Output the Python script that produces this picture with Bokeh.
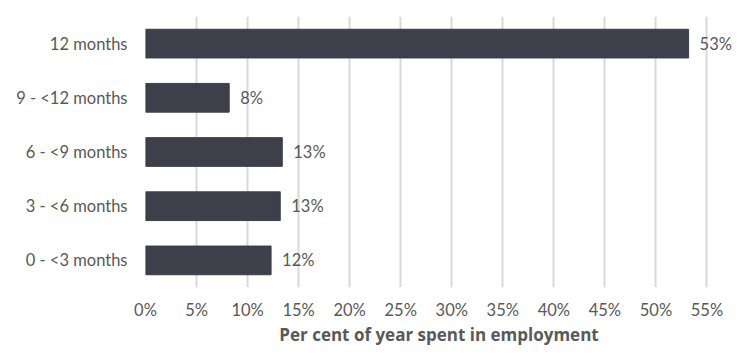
from bokeh.plotting import figure
from bokeh.models import ColumnDataSource, FactorRange, Range1d, FixedTicker, CustomJSTickFormatter
from bokeh.core.properties import value
from bokeh.embed import file_html
from bokeh.resources import INLINE

categories = ["0 - <3 months", "3 - <6 months", "6 - <9 months", "9 - <12 months", "12 months"]
values = [12.3, 13.2, 13.4, 8.2, 53.2]
labels = ["12%", "13%", "13%", "8%", "53%"]
x_ticks = [0, 5, 10, 15, 20, 25, 30, 35, 40, 45, 50, 55]
x_title = "Per cent of year spent in employment"

src = ColumnDataSource(dict(cat=categories, val=values, lab=labels))

p = figure(width=734, height=348, output_backend="svg", toolbar_location=None,
           y_range=FactorRange(*categories, range_padding=0.0),
           x_range=Range1d(0, 57.5),
           min_border_left=145, min_border_right=2, min_border_top=16, min_border_bottom=50)
p.outline_line_color = None
p.background_fill_color = "white"
p.border_fill_color = "white"

p.hbar(y="cat", right="val", left=0, height=0.53, source=src, color="#3d3f4b")
p.text(x="val", y="cat", text="lab", source=src, x_offset=11, text_baseline="middle",
       text_align="left", text_font=value("Lato"), text_font_size="16.5px", text_color="#595959")

p.xaxis.ticker = FixedTicker(ticks=x_ticks)
p.xaxis.formatter = CustomJSTickFormatter(code="return tick + '%';")
p.xaxis.axis_label = x_title
p.xaxis.axis_label_text_font = "Open Sans"
p.xaxis.axis_label_text_font_style = "bold"
p.xaxis.axis_label_text_font_size = "17px"
p.xaxis.axis_label_text_color = "#595959"
p.xaxis.axis_label_standoff = 0
p.xaxis.major_label_text_font = "Lato"
p.xaxis.major_label_text_font_size = "16.5px"
p.xaxis.major_label_text_color = "#595959"
p.xaxis.major_label_standoff = 6
p.xaxis.axis_line_color = None
p.xaxis.major_tick_line_color = None
p.xaxis.minor_tick_line_color = None

p.yaxis.major_label_text_font = "Lato"
p.yaxis.major_label_text_font_size = "16.5px"
p.yaxis.major_label_text_color = "#595959"
p.yaxis.major_label_standoff = 12
p.yaxis.axis_line_color = None
p.yaxis.major_tick_line_color = None
p.yaxis.minor_tick_line_color = None

p.ygrid.grid_line_color = None
p.xgrid.grid_line_color = "#d9d9d9"
p.xgrid.grid_line_width = 2
p.xgrid.ticker = FixedTicker(ticks=x_ticks)

open("out.html", "w").write(file_html(p, INLINE))
